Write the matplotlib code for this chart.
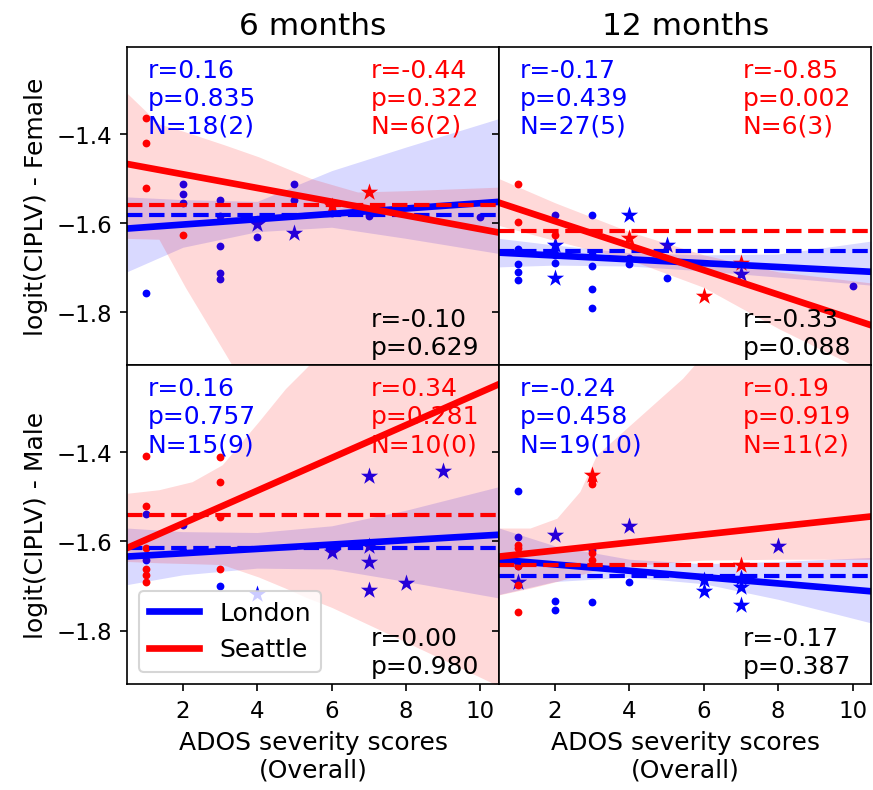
import numpy as np
import matplotlib
matplotlib.use("Agg")
import matplotlib.pyplot as plt
from matplotlib.lines import Line2D

# panel order: Female 6m, Female 12m, Male 6m, Male 12m
titles = ["6 months", "12 months"]
ylabels = ["logit(CIPLV) - Female", "logit(CIPLV) - Male"]
edges = [0.5, 10.5]

# ---- Female, 6 months
lon_f6_dot_x = [1, 2, 2, 2, 3, 3, 3, 3, 3, 4, 5, 5, 6, 7, 7, 10]
lon_f6_dot_y = [-1.757, -1.514, -1.536, -1.555, -1.550, -1.585, -1.651, -1.712, -1.727,
                -1.632, -1.512, -1.550, -1.578, -1.580, -1.585, -1.587]
lon_f6_star_x = [4, 5]
lon_f6_star_y = [-1.602, -1.622]
sea_f6_dot_x = [1, 1, 1, 2]
sea_f6_dot_y = [-1.365, -1.422, -1.522, -1.628]
sea_f6_star_x = [6, 7]
sea_f6_star_y = [-1.563, -1.531]
lon_f6_fit = [-1.613, -1.553]
sea_f6_fit = [-1.468, -1.622]
lon_f6_mean = -1.583
sea_f6_mean = -1.561
lon_f6_band_x = [0.5, 2, 4, 6, 8, 10.5]
lon_f6_band_lo = [-1.710, -1.655, -1.620, -1.610, -1.635, -1.669]
lon_f6_band_hi = [-1.542, -1.548, -1.552, -1.483, -1.430, -1.366]
sea_f6_band_x = [0.5, 1.36, 2.07, 3.15, 4.04, 5.46, 6.7, 8, 10.5]
sea_f6_band_lo = [-1.635, -1.637, -1.745, -1.895, -2.02, -2.2, -2.35, -2.5, -2.8]
sea_f6_band_hi = [-1.309, -1.378, -1.396, -1.426, -1.452, -1.501, -1.531, -1.528, -1.520]

# ---- Female, 12 months
lon_f12_dot_x = [1, 1, 1, 1, 2, 2, 2, 3, 3, 3, 3, 3, 4, 4, 5, 10]
lon_f12_dot_y = [-1.659, -1.693, -1.710, -1.728, -1.582, -1.673, -1.690, -1.583, -1.671,
                 -1.697, -1.748, -1.792, -1.680, -1.693, -1.723, -1.742]
lon_f12_star_x = [2, 2, 4, 5, 7]
lon_f12_star_y = [-1.650, -1.723, -1.582, -1.650, -1.716]
sea_f12_dot_x = [1, 1, 2]
sea_f12_dot_y = [-1.514, -1.598, -1.628]
sea_f12_star_x = [4, 6, 7]
sea_f12_star_y = [-1.635, -1.764, -1.691]
lon_f12_fit = [-1.667, -1.710]
sea_f12_fit = [-1.555, -1.830]
lon_f12_mean = -1.663
sea_f12_mean = -1.618
lon_f12_band_x = [0.5, 2, 4, 6, 8, 10.5]
lon_f12_band_lo = [-1.699, -1.695, -1.697, -1.708, -1.722, -1.740]
lon_f12_band_hi = [-1.635, -1.650, -1.667, -1.672, -1.670, -1.641]
sea_f12_band_x = [0.5, 2, 4, 6, 8, 10.5]
sea_f12_band_lo = [-1.606, -1.640, -1.683, -1.745, -1.837, -1.94]
sea_f12_band_hi = [-1.501, -1.555, -1.620, -1.672, -1.710, -1.735]

# ---- Male, 6 months
lon_m6_dot_x = [1, 1, 2, 2, 3]
lon_m6_dot_y = [-1.538, -1.641, -1.564, -1.621, -1.699]
lon_m6_star_x = [4, 6, 7, 7, 7, 7, 8, 9]
lon_m6_star_y = [-1.718, -1.623, -1.453, -1.611, -1.646, -1.710, -1.693, -1.441]
sea_m6_dot_x = [1, 1, 1, 1, 1, 1, 3, 3, 3, 3]
sea_m6_dot_y = [-1.408, -1.520, -1.615, -1.661, -1.675, -1.692, -1.411, -1.466, -1.546, -1.661]
sea_m6_star_x = []
sea_m6_star_y = []
lon_m6_fit = [-1.634, -1.585]
sea_m6_fit = [-1.615, -1.247]
lon_m6_mean = -1.614
sea_m6_mean = -1.540
lon_m6_band_x = [0.5, 2, 4, 6, 8, 10.5]
lon_m6_band_lo = [-1.697, -1.675, -1.660, -1.662, -1.690, -1.727]
lon_m6_band_hi = [-1.570, -1.578, -1.580, -1.565, -1.530, -1.477]
sea_m6_band_x = [0.5, 1.36, 2.25, 3.06, 4.04, 4.76, 5.3, 6, 8, 10.5]
sea_m6_band_lo = [-1.645, -1.648, -1.650, -1.652, -1.680, -1.705, -1.725, -1.748, -1.826, -1.925]
sea_m6_band_hi = [-1.492, -1.484, -1.466, -1.428, -1.331, -1.257, -1.212, -1.15, -1.0, -0.85]

# ---- Male, 12 months
lon_m12_dot_x = [1, 1, 1, 2, 2, 3, 3, 4]
lon_m12_dot_y = [-1.488, -1.591, -1.656, -1.733, -1.754, -1.620, -1.737, -1.691]
lon_m12_star_x = [1, 2, 4, 6, 6, 7, 7, 7, 8]
lon_m12_star_y = [-1.691, -1.585, -1.565, -1.686, -1.711, -1.682, -1.703, -1.742, -1.611]
sea_m12_dot_x = [1, 1, 1, 1, 1, 3, 3, 3, 3]
sea_m12_dot_y = [-1.608, -1.615, -1.656, -1.697, -1.758, -1.462, -1.472, -1.625, -1.641]
sea_m12_star_x = [3, 7]
sea_m12_star_y = [-1.451, -1.654]
lon_m12_fit = [-1.641, -1.712]
sea_m12_fit = [-1.634, -1.544]
lon_m12_mean = -1.678
sea_m12_mean = -1.652
lon_m12_band_x = [0.5, 2, 4, 6, 8, 10.5]
lon_m12_band_lo = [-1.719, -1.690, -1.680, -1.695, -1.730, -1.783]
lon_m12_band_hi = [-1.570, -1.610, -1.640, -1.650, -1.645, -1.636]
sea_m12_band_x = [0.5, 1.33, 2.05, 2.67, 3.12, 4.02, 5.43, 6, 8, 10.5]
sea_m12_band_lo = [-1.72, -1.705, -1.69, -1.675, -1.665, -1.655, -1.645, -1.642, -1.64, -1.64]
sea_m12_band_hi = [-1.570, -1.570, -1.548, -1.488, -1.406, -1.339, -1.234, -1.18, -1.0, -0.8]

# stats text
lon_r = [0.16, -0.17, 0.16, -0.24]
lon_p = [0.835, 0.439, 0.757, 0.458]
lon_n = [18, 27, 15, 19]
lon_k = [2, 5, 9, 10]
sea_r = [-0.44, -0.85, 0.34, 0.19]
sea_p = [0.322, 0.002, 0.281, 0.919]
sea_n = [6, 6, 10, 11]
sea_k = [2, 3, 0, 2]
all_r = [-0.10, -0.33, 0.00, -0.17]
all_p = [0.629, 0.088, 0.980, 0.387]

panels = [
    (lon_f6_dot_x, lon_f6_dot_y, lon_f6_star_x, lon_f6_star_y, lon_f6_fit, lon_f6_mean,
     lon_f6_band_x, lon_f6_band_lo, lon_f6_band_hi,
     sea_f6_dot_x, sea_f6_dot_y, sea_f6_star_x, sea_f6_star_y, sea_f6_fit, sea_f6_mean,
     sea_f6_band_x, sea_f6_band_lo, sea_f6_band_hi),
    (lon_f12_dot_x, lon_f12_dot_y, lon_f12_star_x, lon_f12_star_y, lon_f12_fit, lon_f12_mean,
     lon_f12_band_x, lon_f12_band_lo, lon_f12_band_hi,
     sea_f12_dot_x, sea_f12_dot_y, sea_f12_star_x, sea_f12_star_y, sea_f12_fit, sea_f12_mean,
     sea_f12_band_x, sea_f12_band_lo, sea_f12_band_hi),
    (lon_m6_dot_x, lon_m6_dot_y, lon_m6_star_x, lon_m6_star_y, lon_m6_fit, lon_m6_mean,
     lon_m6_band_x, lon_m6_band_lo, lon_m6_band_hi,
     sea_m6_dot_x, sea_m6_dot_y, sea_m6_star_x, sea_m6_star_y, sea_m6_fit, sea_m6_mean,
     sea_m6_band_x, sea_m6_band_lo, sea_m6_band_hi),
    (lon_m12_dot_x, lon_m12_dot_y, lon_m12_star_x, lon_m12_star_y, lon_m12_fit, lon_m12_mean,
     lon_m12_band_x, lon_m12_band_lo, lon_m12_band_hi,
     sea_m12_dot_x, sea_m12_dot_y, sea_m12_star_x, sea_m12_star_y, sea_m12_fit, sea_m12_mean,
     sea_m12_band_x, sea_m12_band_lo, sea_m12_band_hi),
]

fig, axes = plt.subplots(2, 2, figsize=(5.82, 5.273), dpi=150, sharex=True, sharey=True)
plt.subplots_adjust(left=0.1454, right=0.998, bottom=0.134, top=0.9397, wspace=0, hspace=0)

for i, ax in enumerate(axes.flat):
    p = panels[i]
    groups = [(p[0:9], "blue"), (p[9:18], "red")]
    # scatter then CI band (band sits over the points like seaborn draws it)
    for (dx, dy, sx, sy, fit, mean, bx, blo, bhi), col in groups:
        ax.scatter(dx, dy, s=14, color=col, marker="o", lw=0, zorder=1)
        if len(sx):
            ax.scatter(sx, sy, s=75, color=col, marker="*", lw=0, zorder=1)
        ax.fill_between(bx, blo, bhi, color=col, alpha=0.15, lw=0, zorder=1)
    for (dx, dy, sx, sy, fit, mean, bx, blo, bhi), col in groups:
        ax.plot(edges, fit, color=col, lw=3.2, zorder=2)
        ax.axhline(mean, color=col, ls="--", lw=2, zorder=2)

    ax.text(0.055, 0.965, f"r={lon_r[i]:.2f}\np={lon_p[i]:.3f}\nN={lon_n[i]}({lon_k[i]})",
            transform=ax.transAxes, ha="left", va="top", color="blue", fontsize=12)
    ax.text(0.655, 0.965, f"r={sea_r[i]:.2f}\np={sea_p[i]:.3f}\nN={sea_n[i]}({sea_k[i]})",
            transform=ax.transAxes, ha="left", va="top", color="red", fontsize=12)
    ax.text(0.655, 0.02, f"r={all_r[i]:.2f}\np={all_p[i]:.3f}",
            transform=ax.transAxes, ha="left", va="bottom", color="black", fontsize=12)

    ax.set_xlim(0.5, 10.5)
    ax.set_ylim(-1.92, -1.205)
    ax.set_xticks([2, 4, 6, 8, 10])
    ax.set_yticks([-1.8, -1.6, -1.4])
    ax.tick_params(labelsize=11)

for j in range(2):
    axes[0, j].set_title(titles[j], fontsize=15)
    axes[0, j].tick_params(axis="x", bottom=False)
    axes[1, j].set_xlabel("ADOS severity scores\n(Overall)", fontsize=12)
    axes[j, 0].set_ylabel(ylabels[j], fontsize=12)

handles = [Line2D([], [], color="blue", lw=3.2), Line2D([], [], color="red", lw=3.2)]
axes[1, 0].legend(handles, ["London", "Seattle"], loc="lower left", fontsize=12)

fig.savefig("out.png", dpi=150)
